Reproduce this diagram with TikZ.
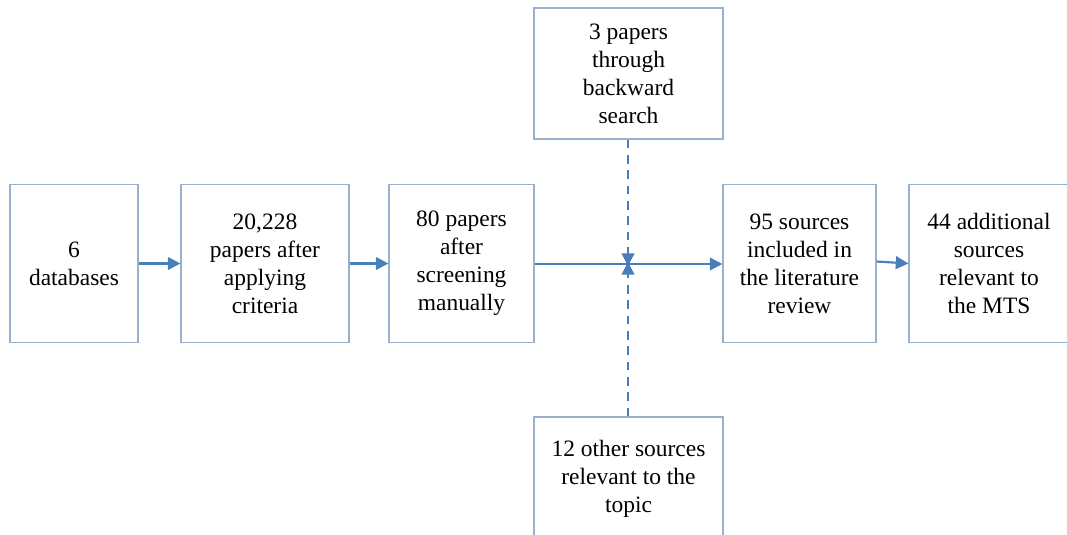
\documentclass[tikz,border=0pt]{standalone}
\usepackage{fontspec}
\setmainfont{Liberation Serif}
\usetikzlibrary{arrows.meta}
\definecolor{boxc}{HTML}{9AB0CC}
\definecolor{arrc}{HTML}{4A7EBB}
\begin{document}
\begin{tikzpicture}[x=0.75pt,y=-0.75pt,
  box/.style={draw=boxc,line width=0.8pt,align=center,inner sep=0pt,
    font=\fontsize{17.6}{21}\selectfont},
  conn/.style={draw=arrc,line width=1.6pt,-{Triangle[length=9.5pt,width=9.5pt]}},
  dconn/.style={conn,dash pattern=on 6.5pt off 5pt}]
\useasboundingbox (0,0) rectangle (1067,535);
\clip (0,0) rectangle (1067,535);
\node[box,minimum width=128*0.75pt,minimum height=158*0.75pt] (b1) at (74,263.5) {6\\databases};
\node[box,minimum width=168*0.75pt,minimum height=158*0.75pt] (b2) at (265,263.5) {20,228\\papers after\\applying\\criteria};
\node[box,minimum width=145*0.75pt,minimum height=158*0.75pt] (b3) at (461.5,263.5) {80 papers\\after\\screening\\manually};
\node[box,minimum width=189*0.75pt,minimum height=131*0.75pt] (top) at (628.5,73.5) {3 papers\\through\\backward\\search};
\node[box,minimum width=153*0.75pt,minimum height=158*0.75pt] (b5) at (799.5,263.5) {95 sources\\included in\\the literature\\review};
\node[box,minimum width=160*0.75pt,minimum height=158*0.75pt] (b6) at (989,263.5) {44 additional\\sources\\relevant to\\the MTS};
\node[box,minimum width=189*0.75pt,minimum height=124*0.75pt] (bot) at (628.5,479) {12 other sources\\relevant to the\\topic};
\coordinate (m) at (628,264);
\draw[conn] (b1) -- (b2);
\draw[conn] (b2) -- (b3);
\draw[conn] (b3.east |- m) -- (b5.west |- m);
\draw[conn] ([yshift=1.5pt]b5.east) -- (b6.west);
\draw[dconn] (top.south -| m) -- ([yshift=-1.5pt]m);
\draw[dconn] (bot.north -| m) -- ([yshift=1.5pt]m);
\end{tikzpicture}
\end{document}
